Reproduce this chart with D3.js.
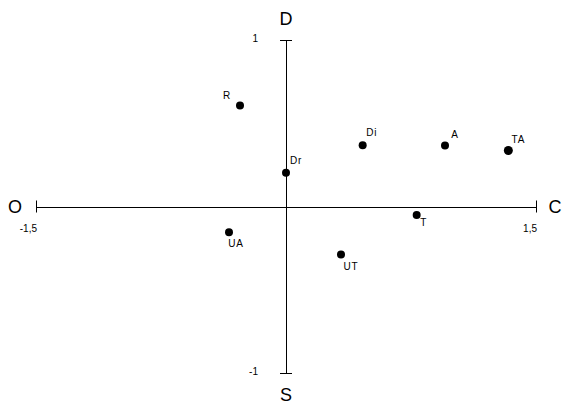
<!DOCTYPE html>
<html>
<head>
<meta charset="utf-8">
<script src="https://cdn.jsdelivr.net/npm/d3@7"></script>
<style>
  body { margin: 0; background: #fff; }
  svg { display: block; font-family: "Liberation Sans", Arial, sans-serif; }
</style>
</head>
<body>
<div id="chart"></div>
<script>
// points on the two axes
const names = ["R", "Dr", "Di", "A", "TA", "T", "UT", "UA"];
const xValues = [-0.276, 0.0, 0.460, 0.954, 1.334, 0.784, 0.330, -0.342];
const yValues = [0.606, 0.203, 0.368, 0.366, 0.336, -0.051, -0.288, -0.155];
// where each label sits relative to its dot (px)
const labelDx = [-13, 10, 9, 10, 10, 7, 10, 7];
const labelDy = [-10, -12, -13, -11, -11, 8, 12, 11];

const xTicks = [-1.5, 1.5];
const yTicks = [-1, 1];
const poles = { left: "O", right: "C", top: "D", bottom: "S" };

const width = 566;
const height = 407;

const svg = d3.select("#chart")
    .append("svg")
    .attr("width", width)
    .attr("height", height);

const x = d3.scaleLinear([-1.5, 1.5], [36, 536]);
const y = d3.scaleLinear([-1, 1], [373, 40]);

const fmt = d => String(d).replace(".", ",");

// horizontal axis
svg.append("line")
    .attr("x1", x(-1.5)).attr("x2", x(1.5))
    .attr("y1", Math.round(y(0)) + 0.5).attr("y2", Math.round(y(0)) + 0.5)
    .attr("stroke", "#000");

svg.selectAll(".xtick")
    .data(xTicks)
    .join("line")
    .attr("x1", d => Math.round(x(d)) + 0.5).attr("x2", d => Math.round(x(d)) + 0.5)
    .attr("y1", y(0) - 6).attr("y2", y(0) + 6)
    .attr("stroke", "#000");

svg.selectAll(".xlab")
    .data(xTicks)
    .join("text")
    .attr("x", d => x(d) + 1)
    .attr("y", y(0) + 25)
    .attr("text-anchor", "end")
    .attr("font-size", 10)
    .text(fmt);

// vertical axis
svg.append("line")
    .attr("x1", Math.round(x(0)) + 0.5).attr("x2", Math.round(x(0)) + 0.5)
    .attr("y1", y(1)).attr("y2", y(-1))
    .attr("stroke", "#000");

svg.selectAll(".ytick")
    .data(yTicks)
    .join("line")
    .attr("x1", x(0) - 6).attr("x2", x(0) + 6)
    .attr("y1", d => Math.round(y(d)) + 0.5).attr("y2", d => Math.round(y(d)) + 0.5)
    .attr("stroke", "#000");

svg.selectAll(".ylab")
    .data(yTicks)
    .join("text")
    .attr("x", x(0) - 28)
    .attr("y", d => y(d) - 2)
    .attr("text-anchor", "end")
    .attr("dominant-baseline", "central")
    .attr("font-size", 10)
    .text(fmt);

// pole letters
const big = [
    { t: poles.left, px: 15, py: y(0) },
    { t: poles.right, px: 555, py: y(0) },
    { t: poles.top, px: x(0), py: 19 },
    { t: poles.bottom, px: x(0), py: 395 }
];
svg.selectAll(".pole")
    .data(big)
    .join("text")
    .attr("x", d => d.px)
    .attr("y", d => d.py)
    .attr("text-anchor", "middle")
    .attr("dominant-baseline", "central")
    .attr("font-size", 18)
    .text(d => d.t);

// dots and their labels
const pts = names.map((n, i) => ({ n, vx: xValues[i], vy: yValues[i], dx: labelDx[i], dy: labelDy[i] }));

svg.selectAll(".dot")
    .data(pts)
    .join("circle")
    .attr("cx", d => x(d.vx))
    .attr("cy", d => y(d.vy))
    .attr("r", d => d.n === "TA" ? 4.5 : 4)
    .attr("fill", "#000");

svg.selectAll(".plab")
    .data(pts)
    .join("text")
    .attr("x", d => x(d.vx) + d.dx)
    .attr("y", d => y(d.vy) + d.dy)
    .attr("text-anchor", "middle")
    .attr("dominant-baseline", "central")
    .attr("font-size", 10)
    .attr("letter-spacing", 0.8)
    .text(d => d.n);
</script>
</body>
</html>
